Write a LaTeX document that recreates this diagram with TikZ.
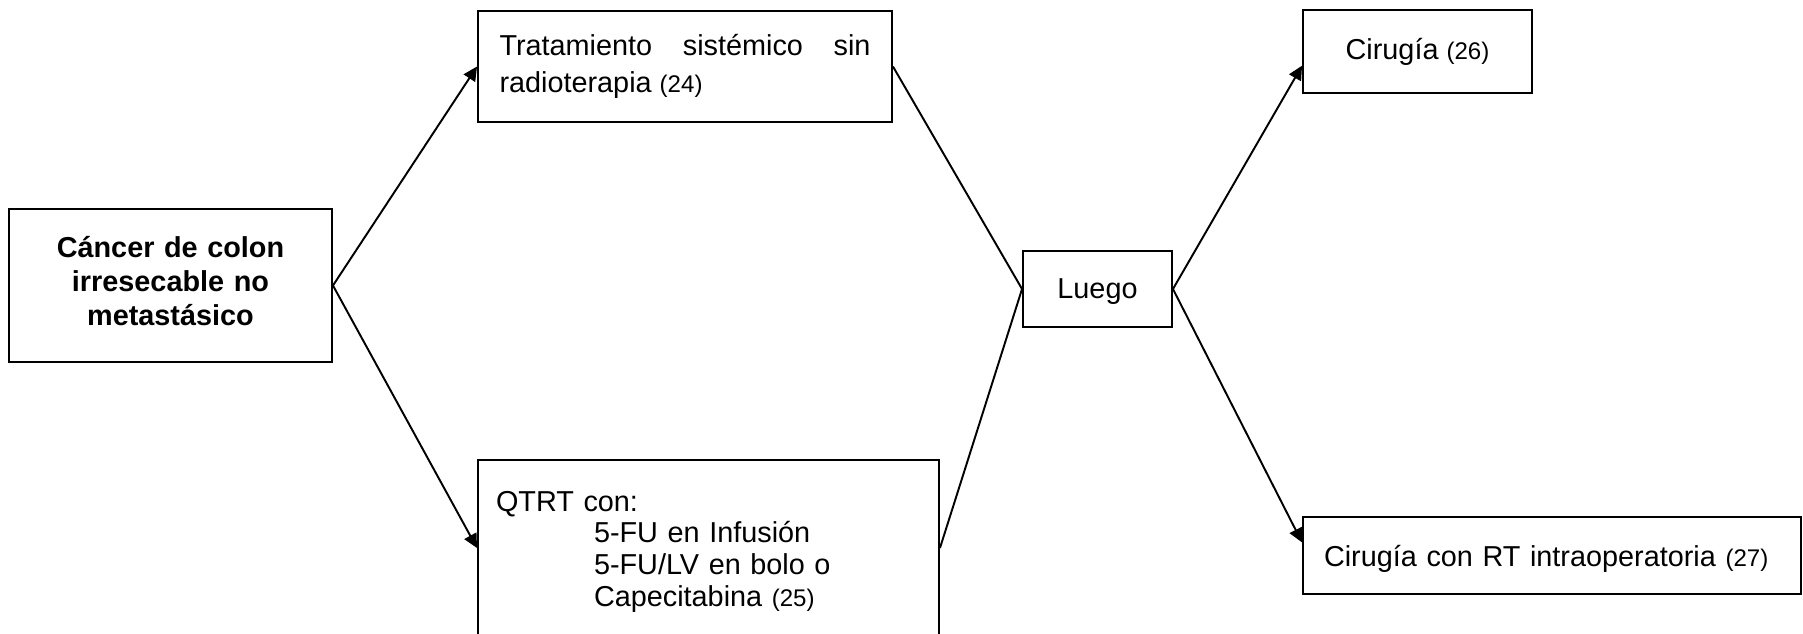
\documentclass[tikz,border=0pt]{standalone}
\usepackage{fontspec}
\setmainfont{Liberation Sans}
\usetikzlibrary{arrows.meta}

\newcommand{\cita}[1]{{\fontsize{13.7}{16}\selectfont(#1)}}

\tikzstyle{box} = [rectangle, draw=black, line width=1.1pt, inner ysep=0pt,
font=\fontsize{16.4}{18.2}\selectfont]
\tikzstyle{arrow} = [line width=1.1pt, -{Triangle[length=0.28cm, width=0.27cm]}]
\tikzstyle{line} = [line width=1.1pt]

\begin{document}
\begin{tikzpicture}[node distance=2cm]
  \useasboundingbox (0,0) rectangle (36.06,-12.66);

  \node (cancer) [box, text width=6.06cm, inner xsep=0.2cm, align=center, text height=0.96cm, text depth=2.10cm,
    font=\bfseries\fontsize{16.4}{19.4}\selectfont] at (3.41,-5.71) {Cáncer de colon\\ irresecable no\\ metastásico};

  \node (trat) [box, right of=cancer, xshift=8.29cm, yshift=4.38cm, text width=7.42cm, inner xsep=0.43cm, align=justify,
    text height=0.88cm, text depth=1.34cm, font=\fontsize{16.4}{21.6}\selectfont] {Tratamiento sistémico sin \mbox{radioterapia} \cita{24}};
  \node (qtrt) [box, below of=trat, xshift=0.47cm, yshift=-7.63cm, text width=8.50cm, inner xsep=0.36cm, align=left,
    text height=1.02cm, text depth=2.50cm] {QTRT con:\\ \hspace*{1.96cm}5-FU en Infusión\\ \hspace*{1.96cm}5-FU/LV en bolo o\\ \hspace*{1.96cm}Capecitabina \cita{25}};

  \node (luego) [box, right of=trat, xshift=6.25cm, yshift=-4.45cm, minimum width=2.98cm, inner xsep=0pt,
    text height=0.94cm, text depth=0.58cm] {Luego};

  \node (cir) [box, right of=luego, xshift=4.40cm, yshift=4.75cm, minimum width=4.58cm,
    text height=0.98cm, text depth=0.68cm] {Cirugía \cita{26}};
  \node (cirrt) [box, below of=cir, xshift=2.69cm, yshift=-8.08cm, text width=9.12cm, inner xsep=0.42cm, align=left,
    text height=0.98cm, text depth=0.56cm] {Cirugía con RT intraoperatoria \cita{27}};

  \draw [arrow] (cancer.east) -- (trat.west);
  \draw [arrow] (cancer.east) -- (qtrt.west);
  \draw [line] (trat.east) -- (luego.west);
  \draw [line] (qtrt.east) -- (luego.west);
  \draw [arrow] (luego.east) -- (cir.187);
  \draw [arrow] (luego.east) -- (cirrt.177);

\end{tikzpicture}
\end{document}
